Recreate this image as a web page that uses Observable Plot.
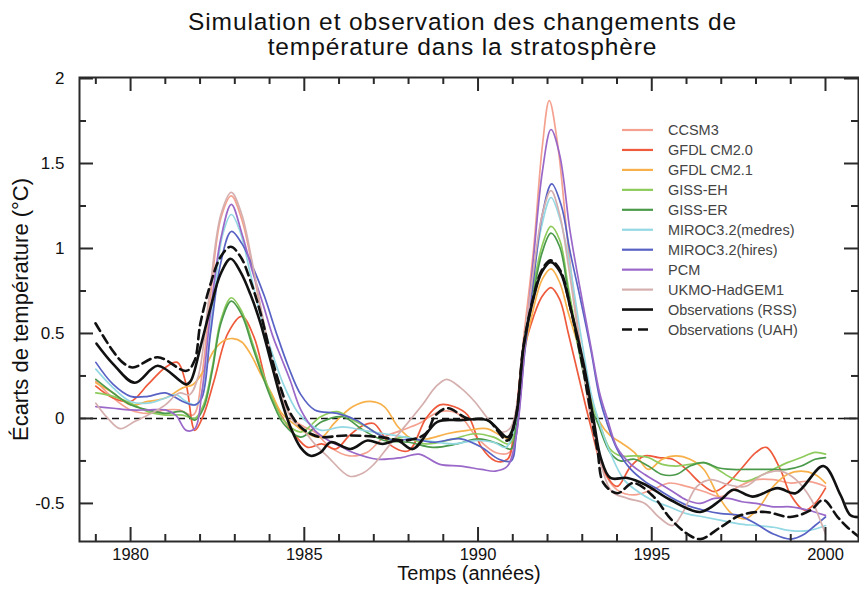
<!DOCTYPE html>
<html><head><meta charset="utf-8">
<script src="https://cdn.jsdelivr.net/npm/d3@7"></script>
<script src="https://cdn.jsdelivr.net/npm/@observablehq/plot@0.6"></script>
<style>
body{margin:0;background:#fff;font-family:"Liberation Sans",Arial,Helvetica,sans-serif;}
#wrap{width:859px;height:590px;position:relative;overflow:hidden;background:#fff}
#title{width:859px;height:62px;box-sizing:border-box;padding-top:9px;padding-left:66px;text-align:center;font-size:24.5px;letter-spacing:0.9px;line-height:25px;color:#111;white-space:nowrap}
</style></head>
<body><div id="wrap"><div id="title">Simulation et observation des changements de<br>température dans la stratosphère</div><div id="chart"></div></div>
<script>
const seriesNames = ["CCSM3","GFDL CM2.0","GFDL CM2.1","GISS-EH","GISS-ER","MIROC3.2(medres)","MIROC3.2(hires)","PCM","UKMO-HadGEM1"];
const seriesColors = ["#f4a190","#ee5a3b","#f7b04a","#8dcb5c","#4b9a4b","#93d8e3","#5862c4","#9a68c8","#d5afae"];
const obsNames = ["Observations (RSS)","Observations (UAH)"];

const ccsm3 = [[1979,0.22],[1979.5,0.12],[1980,0.05],[1980.5,0.03],[1981,0.05],[1981.4,0.05],[1981.8,0.02],[1982.05,0.25],[1982.3,0.72],[1982.6,1.18],[1982.9,1.31],[1983.2,1.17],[1983.5,0.9],[1983.8,0.58],[1984.1,0.3],[1984.4,0.1],[1984.7,-0.01],[1985.0,-0.05],[1985.3,-0.08],[1985.75,-0.17],[1986.3,-0.22],[1986.8,-0.2],[1987.3,-0.11],[1987.8,-0.07],[1988.3,-0.03],[1988.9,0.04],[1989.4,0.03],[1990.0,-0.12],[1990.5,-0.2],[1990.9,-0.2],[1991.05,-0.05],[1991.3,0.45],[1991.6,1.0],[1991.85,1.6],[1992.05,1.87],[1992.3,1.6],[1992.6,1.0],[1992.95,0.42],[1993.25,0.0],[1993.6,-0.3],[1994.0,-0.42],[1994.5,-0.45],[1995.0,-0.42],[1995.5,-0.38],[1996.0,-0.4],[1996.5,-0.43],[1997.0,-0.46],[1997.5,-0.4],[1998.0,-0.36],[1998.5,-0.36],[1999.0,-0.38],[1999.5,-0.37],[2000.0,-0.4]];
const gfdl20 = [[1979,0.19],[1979.5,0.12],[1980,0.1],[1980.5,0.2],[1981,0.3],[1981.35,0.33],[1981.6,0.2],[1981.85,-0.07],[1982.1,0.02],[1982.4,0.22],[1982.8,0.5],[1983.2,0.6],[1983.55,0.48],[1983.95,0.18],[1984.3,0.03],[1984.7,-0.09],[1985.1,-0.17],[1985.5,-0.15],[1985.9,-0.18],[1986.3,-0.1],[1986.7,-0.04],[1987.0,-0.03],[1987.5,-0.16],[1988.0,-0.19],[1988.5,0.0],[1988.9,0.08],[1989.3,0.07],[1989.7,0.02],[1990.1,-0.17],[1990.5,-0.25],[1990.85,-0.24],[1991.05,-0.05],[1991.3,0.38],[1991.6,0.6],[1991.85,0.72],[1992.1,0.77],[1992.35,0.7],[1992.6,0.5],[1992.95,0.2],[1993.25,-0.05],[1993.6,-0.3],[1994.0,-0.4],[1994.4,-0.28],[1994.8,-0.22],[1995.2,-0.23],[1995.6,-0.24],[1996.0,-0.3],[1996.4,-0.38],[1996.8,-0.43],[1997.2,-0.38],[1997.6,-0.29],[1998.0,-0.2],[1998.3,-0.17],[1998.7,-0.3],[1999.0,-0.45],[1999.4,-0.54],[1999.7,-0.5],[2000,-0.41]];
const gfdl21 = [[1979,0.21],[1979.5,0.15],[1980,0.08],[1980.5,0.1],[1981,0.12],[1981.5,0.18],[1981.8,0.2],[1982.1,0.28],[1982.4,0.4],[1982.7,0.46],[1982.95,0.47],[1983.2,0.45],[1983.45,0.38],[1983.75,0.26],[1984.05,0.15],[1984.35,0.03],[1984.75,-0.04],[1985.1,-0.09],[1985.5,-0.11],[1985.85,-0.03],[1986.4,0.07],[1986.9,0.1],[1987.3,0.07],[1987.7,-0.05],[1988.1,-0.12],[1988.55,-0.12],[1989.1,-0.09],[1989.7,-0.07],[1990.25,-0.06],[1990.65,-0.1],[1990.95,-0.12],[1991.1,0.0],[1991.3,0.35],[1991.6,0.65],[1991.85,0.82],[1992.1,0.88],[1992.35,0.8],[1992.6,0.62],[1992.95,0.38],[1993.25,0.12],[1993.5,-0.02],[1993.8,-0.1],[1994.1,-0.14],[1994.5,-0.2],[1994.9,-0.3],[1995.3,-0.24],[1995.7,-0.22],[1996.1,-0.24],[1996.5,-0.3],[1996.9,-0.45],[1997.3,-0.56],[1997.7,-0.59],[1998.1,-0.52],[1998.5,-0.4],[1998.9,-0.33],[1999.3,-0.31],[1999.7,-0.33],[2000,-0.38]];
const gissEH = [[1979,0.15],[1979.5,0.13],[1980,0.09],[1980.5,0.04],[1981,0.02],[1981.5,0.02],[1981.85,0.0],[1982.1,0.08],[1982.35,0.3],[1982.6,0.58],[1982.9,0.71],[1983.2,0.63],[1983.5,0.45],[1983.8,0.27],[1984.1,0.11],[1984.4,-0.01],[1984.9,-0.08],[1985.47,0.01],[1985.95,0.04],[1986.4,-0.01],[1986.8,-0.05],[1987.4,-0.12],[1987.95,-0.11],[1988.5,-0.15],[1989.3,-0.12],[1989.9,-0.09],[1990.45,-0.11],[1990.9,-0.15],[1991.1,-0.02],[1991.3,0.4],[1991.6,0.78],[1991.85,1.02],[1992.1,1.13],[1992.35,1.05],[1992.6,0.77],[1992.95,0.38],[1993.25,0.1],[1993.45,0.0],[1993.8,-0.18],[1994.1,-0.22],[1994.5,-0.22],[1994.9,-0.23],[1995.3,-0.27],[1995.7,-0.28],[1996.1,-0.27],[1996.5,-0.26],[1996.9,-0.3],[1997.3,-0.35],[1997.7,-0.37],[1998.1,-0.34],[1998.5,-0.3],[1998.9,-0.26],[1999.3,-0.23],[1999.7,-0.2],[2000,-0.21]];
const gissER = [[1979,0.23],[1979.5,0.15],[1980,0.08],[1980.5,0.05],[1981,0.03],[1981.5,0.04],[1981.85,-0.01],[1982.1,0.06],[1982.35,0.28],[1982.6,0.56],[1982.9,0.69],[1983.2,0.61],[1983.5,0.43],[1983.8,0.25],[1984.1,0.09],[1984.4,-0.03],[1984.9,-0.11],[1985.5,-0.02],[1986.1,0.01],[1986.7,-0.07],[1987.3,-0.13],[1988.0,-0.14],[1988.7,-0.17],[1989.4,-0.15],[1990.0,-0.12],[1990.6,-0.15],[1990.95,-0.18],[1991.1,-0.03],[1991.3,0.38],[1991.6,0.74],[1991.85,0.98],[1992.1,1.09],[1992.35,1.01],[1992.6,0.74],[1992.95,0.35],[1993.25,0.07],[1993.45,-0.03],[1993.8,-0.2],[1994.1,-0.25],[1994.5,-0.24],[1994.9,-0.28],[1995.3,-0.33],[1995.7,-0.33],[1996.1,-0.28],[1996.5,-0.26],[1996.9,-0.29],[1997.3,-0.3],[1997.7,-0.3],[1998.1,-0.3],[1998.5,-0.3],[1998.9,-0.3],[1999.3,-0.28],[1999.7,-0.24],[2000,-0.23]];
const mirocMed = [[1979,0.29],[1979.5,0.18],[1980,0.1],[1980.5,0.09],[1981,0.12],[1981.3,0.14],[1981.6,0.1],[1981.9,0.08],[1982.1,0.2],[1982.35,0.62],[1982.65,1.08],[1982.9,1.2],[1983.15,1.1],[1983.45,0.85],[1983.75,0.6],[1984.05,0.4],[1984.4,0.2],[1984.8,0.04],[1985.2,-0.04],[1985.5,-0.07],[1986.1,-0.05],[1986.7,-0.07],[1987.3,-0.09],[1987.9,-0.11],[1988.5,-0.13],[1989.3,-0.15],[1989.9,-0.13],[1990.45,-0.14],[1990.8,-0.17],[1991.05,-0.05],[1991.3,0.4],[1991.6,0.85],[1991.85,1.15],[1992.1,1.3],[1992.35,1.18],[1992.6,0.95],[1992.95,0.5],[1993.25,0.15],[1993.45,0.0],[1993.8,-0.2],[1994.2,-0.36],[1994.6,-0.43],[1995.0,-0.48],[1995.5,-0.52],[1996.0,-0.56],[1996.5,-0.58],[1997.0,-0.6],[1997.5,-0.62],[1998.0,-0.63],[1998.5,-0.64],[1999.0,-0.66],[1999.5,-0.66],[2000,-0.63]];
const mirocHi = [[1979,0.33],[1979.5,0.2],[1980,0.13],[1980.5,0.13],[1981,0.15],[1981.5,0.1],[1981.85,0.08],[1982.05,0.12],[1982.3,0.5],[1982.6,0.92],[1982.9,1.1],[1983.2,1.03],[1983.5,0.9],[1983.85,0.72],[1984.2,0.5],[1984.55,0.3],[1984.9,0.14],[1985.3,0.05],[1985.95,0.03],[1986.5,-0.01],[1987.1,-0.09],[1987.6,-0.13],[1988.1,-0.12],[1988.7,-0.14],[1989.5,-0.12],[1990.1,-0.17],[1990.6,-0.24],[1990.95,-0.25],[1991.1,-0.1],[1991.35,0.4],[1991.6,0.82],[1991.85,1.2],[1992.12,1.38],[1992.4,1.25],[1992.65,0.98],[1992.95,0.7],[1993.25,0.4],[1993.5,0.12],[1993.7,-0.02],[1994.0,-0.18],[1994.4,-0.3],[1994.8,-0.37],[1995.2,-0.42],[1995.6,-0.47],[1996.0,-0.51],[1996.5,-0.54],[1997.0,-0.56],[1997.5,-0.57],[1998.0,-0.62],[1998.5,-0.68],[1999.0,-0.71],[1999.4,-0.68],[1999.7,-0.63],[2000,-0.58]];
const pcm = [[1979,0.07],[1979.5,0.06],[1980,0.05],[1980.5,0.05],[1981,0.05],[1981.3,0.02],[1981.6,-0.07],[1981.85,-0.06],[1982.05,0.15],[1982.3,0.62],[1982.6,1.06],[1982.9,1.26],[1983.2,1.09],[1983.5,0.87],[1983.8,0.68],[1984.1,0.48],[1984.35,0.35],[1984.6,0.22],[1984.9,0.05],[1985.3,-0.07],[1985.7,-0.13],[1986.1,-0.17],[1986.4,-0.2],[1987.1,-0.24],[1987.8,-0.23],[1988.3,-0.21],[1988.9,-0.27],[1989.5,-0.28],[1990.1,-0.3],[1990.5,-0.31],[1990.85,-0.28],[1991.1,-0.1],[1991.35,0.42],[1991.6,0.95],[1991.85,1.45],[1992.1,1.7],[1992.35,1.55],[1992.65,1.1],[1992.95,0.75],[1993.25,0.42],[1993.5,0.15],[1993.72,0.0],[1994.0,-0.17],[1994.4,-0.27],[1994.8,-0.33],[1995.2,-0.38],[1995.6,-0.43],[1996.0,-0.48],[1996.4,-0.5],[1996.8,-0.47],[1997.2,-0.47],[1997.6,-0.49],[1998.0,-0.5],[1998.5,-0.52],[1999.0,-0.52],[1999.5,-0.54],[2000,-0.57]];
const ukmo = [[1979,0.09],[1979.35,0.0],[1979.7,-0.06],[1980.1,-0.02],[1980.6,0.03],[1981.0,0.08],[1981.4,0.15],[1981.7,0.14],[1981.95,0.25],[1982.25,0.7],[1982.6,1.2],[1982.9,1.33],[1983.2,1.2],[1983.5,0.92],[1983.8,0.6],[1984.1,0.32],[1984.4,0.1],[1984.7,-0.02],[1984.9,-0.05],[1985.3,-0.15],[1985.7,-0.23],[1986.3,-0.34],[1986.7,-0.32],[1987.0,-0.27],[1987.4,-0.17],[1987.8,-0.07],[1988.4,0.08],[1988.8,0.19],[1989.1,0.23],[1989.5,0.18],[1989.9,0.1],[1990.4,-0.03],[1990.7,-0.08],[1990.95,-0.05],[1991.25,0.3],[1991.55,0.8],[1991.85,1.2],[1992.1,1.34],[1992.35,1.2],[1992.6,0.9],[1992.95,0.4],[1993.25,0.0],[1993.55,-0.28],[1993.85,-0.43],[1994.3,-0.47],[1994.8,-0.5],[1995.2,-0.58],[1995.6,-0.63],[1995.9,-0.55],[1996.3,-0.4],[1996.7,-0.36],[1997.2,-0.39],[1997.7,-0.4],[1998.2,-0.33],[1998.7,-0.31],[1999.15,-0.36],[1999.6,-0.48],[1999.85,-0.6],[2000,-0.68]];
const rss = [[1979.02,0.44],[1979.5,0.32],[1980.12,0.21],[1980.78,0.31],[1981.6,0.2],[1981.73,0.22],[1982.01,0.42],[1982.3,0.65],[1982.59,0.85],[1982.88,0.94],[1983.17,0.86],[1983.45,0.73],[1983.74,0.56],[1984.03,0.34],[1984.32,0.12],[1984.6,-0.05],[1984.89,-0.17],[1985.18,-0.22],[1985.47,-0.2],[1985.76,-0.14],[1986.33,-0.18],[1986.82,-0.13],[1987.25,-0.15],[1987.68,-0.13],[1988.12,-0.18],[1988.83,-0.02],[1989.5,-0.01],[1990.27,-0.01],[1990.85,-0.11],[1991.08,0.0],[1991.31,0.42],[1991.6,0.71],[1991.83,0.86],[1992.09,0.92],[1992.37,0.86],[1992.66,0.65],[1993.04,0.32],[1993.32,0.0],[1993.53,-0.23],[1993.81,-0.35],[1994.3,-0.35],[1994.82,-0.39],[1995.54,-0.48],[1996.4,-0.55],[1996.98,-0.48],[1997.35,-0.42],[1997.9,-0.46],[1998.62,-0.41],[1999.14,-0.44],[1999.94,-0.28],[2000.43,-0.45],[2000.72,-0.57],[2001.0,-0.58]];
const uah = [[1978.99,0.56],[1979.48,0.4],[1979.77,0.33],[1980.06,0.3],[1980.78,0.36],[1981.61,0.28],[1981.84,0.34],[1982.01,0.56],[1982.3,0.79],[1982.59,0.95],[1982.88,1.01],[1983.17,0.95],[1983.45,0.81],[1983.74,0.62],[1984.03,0.38],[1984.32,0.18],[1984.6,0.03],[1984.89,-0.05],[1985.18,-0.09],[1985.47,-0.11],[1986.19,-0.1],[1987.19,-0.11],[1987.91,-0.13],[1988.49,-0.09],[1988.78,0.02],[1989.12,0.06],[1989.7,0.0],[1990.27,-0.01],[1990.85,-0.13],[1991.08,0.0],[1991.31,0.43],[1991.6,0.72],[1991.83,0.87],[1992.09,0.93],[1992.37,0.87],[1992.66,0.65],[1993.01,0.31],[1993.27,0.0],[1993.44,-0.19],[1993.61,-0.38],[1994.01,-0.44],[1994.47,-0.38],[1995.05,-0.46],[1995.54,-0.59],[1996.03,-0.68],[1996.4,-0.71],[1996.98,-0.64],[1997.55,-0.57],[1998.27,-0.55],[1998.99,-0.58],[1999.57,-0.54],[1999.94,-0.48],[2000.35,-0.58],[2000.63,-0.64],[2000.98,-0.7]];

const xMajor = [1980,1985,1990,1995,2000];
const xMinor = [1979,1981,1982,1983,1984,1986,1987,1988,1989,1991,1992,1993,1994,1996,1997,1998,1999];
const yMajor = [-0.5,0,0.5,1,1.5,2];
const yMinor = [-0.25,0.25,0.75,1.25,1.75];
const xLabel = "Temps (années)";
const yLabel = "Écarts de température (°C)";

const modelData = [ccsm3,gfdl20,gfdl21,gissEH,gissER,mirocMed,mirocHi,pcm,ukmo];
const modelRows = modelData.flatMap((arr,i)=>arr.map(([year,value])=>({year,value,series:seriesNames[i]})));
const rssRows = rss.map(([year,value])=>({year,value}));
const uahRows = uah.map(([year,value])=>({year,value}));

const W = 859, H = 528, mL = 79, mR = 1, mT = 15, mB = 49;
const X0 = 1978.53, X1 = 2000.95, Y0 = -0.724, Y1 = 2.006;
const ux = (X1-X0)/(W-mL-mR), uy = (Y1-Y0)/(H-mT-mB);
const major = 14, minor = 7, ink = "#2a2a2a";

const plot = Plot.plot({
  width: W, height: H, marginLeft: mL, marginRight: mR, marginTop: mT, marginBottom: mB,
  style: {fontFamily: "Liberation Sans, Arial, Helvetica, sans-serif", fontSize: "17px", background: "#fff", color: "#111"},
  x: {domain: [X0, X1], axis: null},
  y: {domain: [Y0, Y1], axis: null},
  color: {domain: seriesNames, range: seriesColors},
  marks: [
    Plot.ruleY([0], {stroke: "#111", strokeWidth: 1.6, strokeDasharray: "7,4"}),
    Plot.line(modelRows, {x: "year", y: "value", z: "series", stroke: "series", strokeWidth: 1.7, curve: "catmull-rom", clip: true}),
    Plot.line(uahRows, {x: "year", y: "value", stroke: "#111", strokeWidth: 2.6, strokeDasharray: "9,5", curve: "catmull-rom", clip: true}),
    Plot.line(rssRows, {x: "year", y: "value", stroke: "#111", strokeWidth: 2.6, curve: "catmull-rom", clip: true}),
    Plot.ruleX(xMajor, {x: d=>d, y1: Y0, y2: Y0 + major*uy, stroke: ink, strokeWidth: 2}),
    Plot.ruleX(xMinor, {x: d=>d, y1: Y0, y2: Y0 + minor*uy, stroke: ink, strokeWidth: 2}),
    Plot.ruleX(xMajor, {x: d=>d, y1: Y1, y2: Y1 - major*uy, stroke: ink, strokeWidth: 2}),
    Plot.ruleX(xMinor, {x: d=>d, y1: Y1, y2: Y1 - minor*uy, stroke: ink, strokeWidth: 2}),
    Plot.ruleY(yMajor, {y: d=>d, x1: X0, x2: X0 + major*ux, stroke: ink, strokeWidth: 2}),
    Plot.ruleY(yMinor, {y: d=>d, x1: X0, x2: X0 + minor*ux, stroke: ink, strokeWidth: 2}),
    Plot.ruleY(yMajor, {y: d=>d, x1: X1, x2: X1 - major*ux, stroke: ink, strokeWidth: 2}),
    Plot.ruleY(yMinor, {y: d=>d, x1: X1, x2: X1 - minor*ux, stroke: ink, strokeWidth: 2}),
    Plot.frame({stroke: ink, strokeWidth: 2}),
    Plot.axisX({ticks: xMajor, tickSize: 0, tickPadding: 7, tickFormat: d => String(d), fontSize: 16.5, label: null}),
    Plot.axisY({ticks: yMajor, tickSize: 0, tickPadding: 15, tickFormat: d => String(d), fontSize: 17, label: null}),
    Plot.text([xLabel], {text: d=>d, frameAnchor: "bottom", dy: 38.5, fontSize: 20, textAnchor: "middle"}),
    Plot.text([yLabel], {text: d=>d, frameAnchor: "left", dx: -59, rotate: -90, fontSize: 22, textAnchor: "middle"})
  ]
});
document.getElementById("chart").appendChild(plot);

// legend inside the frame
const legendNames = seriesNames.concat(obsNames);
const legendColors = seriesColors.concat(["#111","#111"]);
const svg = d3.select(plot);
const lg = svg.append("g").attr("font-family","Liberation Sans, Arial, Helvetica, sans-serif").attr("font-size", 14.5).attr("text-anchor","start");
legendNames.forEach((name, i) => {
  const y = 68 + i*19.95;
  const obs = i >= seriesNames.length;
  lg.append("line").attr("x1", 622).attr("x2", 653).attr("y1", y).attr("y2", y)
    .attr("stroke", legendColors[i]).attr("stroke-width", obs ? 2.6 : 2.2)
    .attr("stroke-dasharray", i === legendNames.length-1 ? "10,6" : null);
  lg.append("text").attr("x", 668).attr("y", y).attr("dy", "0.35em").attr("fill", "#444").attr("text-anchor","start").text(name);
});
</script></body></html>
